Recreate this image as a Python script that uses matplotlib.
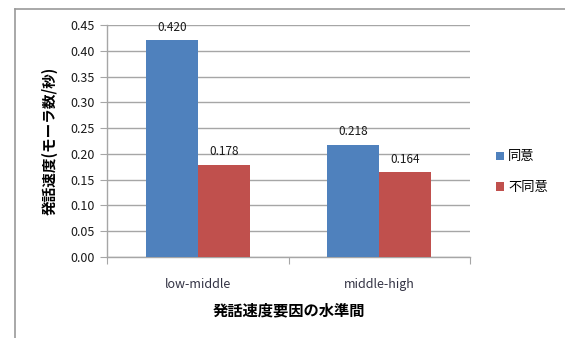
import numpy as np
import matplotlib.pyplot as plt
from matplotlib.lines import Line2D

plt.rcParams['font.family'] = ['Noto Sans CJK JP', 'DejaVu Sans']

categories = ['low-middle', 'middle-high']
agree = [0.420, 0.218]      # 同意
disagree = [0.178, 0.164]   # 不同意
series_names = ['同意', '不同意']
yticks = [0.00, 0.05, 0.10, 0.15, 0.20, 0.25, 0.30, 0.35, 0.40, 0.45]

blue = '#4F81BD'
red = '#C0504D'
grid_gray = '#A6A6A6'

fig = plt.figure(figsize=(5.65, 3.38), dpi=100)
ax = fig.add_axes([107 / 565, 1 - 257 / 338, 363 / 565, 232 / 338])

x = np.arange(len(categories))
w = 0.286
b1 = ax.bar(x - w / 2, agree, w, color=blue, label=series_names[0], zorder=3)
b2 = ax.bar(x + w / 2, disagree, w, color=red, label=series_names[1], zorder=3)

# value labels on top of each bar
for bars, vals in ((b1, agree), (b2, disagree)):
    for rect, v in zip(bars, vals):
        ax.annotate(f'{v:.3f}', (rect.get_x() + rect.get_width() / 2, v),
                    xytext=(0, 5), textcoords='offset points',
                    ha='center', va='bottom', fontsize=8.5, color='#1a1a1a',
                    annotation_clip=False, zorder=4)

ax.set_xlim(-0.5, 1.5)
ax.set_ylim(0, 0.45)
ax.set_yticks(yticks)
ax.set_yticklabels([f'{t:.2f}' for t in yticks], fontsize=9, color='#1a1a1a')
ax.yaxis.grid(True, color=grid_gray, linewidth=1.0, zorder=0)

# category ticks sit on the group boundaries, labels in the middle
ax.set_xticks([-0.5, 0.5, 1.5])
ax.set_xticklabels([])
ax.set_xticks(x, minor=True)
ax.set_xticklabels(categories, minor=True, fontsize=9, color='#333344')
ax.tick_params(axis='x', which='minor', length=0, pad=15)
ax.tick_params(axis='x', which='major', length=5, color=grid_gray, direction='out')
ax.tick_params(axis='y', length=5, color=grid_gray, direction='out', pad=4)

for s in ('top', 'right'):
    ax.spines[s].set_visible(False)
for s in ('left', 'bottom'):
    ax.spines[s].set_color(grid_gray)
    ax.spines[s].set_linewidth(1.0)

ax.set_ylabel('発話速度(モーラ数/秒)', fontsize=10.5, fontweight='bold', labelpad=9)
ax.set_xlabel('発話速度要因の水準間', fontsize=11, fontweight='bold', labelpad=8)

ax.legend(loc='center left', bbox_to_anchor=(1.04, 0.365), frameon=False,
          fontsize=9.5, handlelength=0.6, handleheight=0.6,
          handletextpad=0.3, labelspacing=1.35)

# chart frame (left and top edges)
fig.add_artist(Line2D([14.5 / 565, 14.5 / 565], [0, 1 - 8.5 / 338],
                      color='#9a9a9a', linewidth=1.2, transform=fig.transFigure))
fig.add_artist(Line2D([14.5 / 565, 1], [1 - 8.5 / 338, 1 - 8.5 / 338],
                      color='#9a9a9a', linewidth=1.2, transform=fig.transFigure))

fig.savefig('out.png', dpi=100)
